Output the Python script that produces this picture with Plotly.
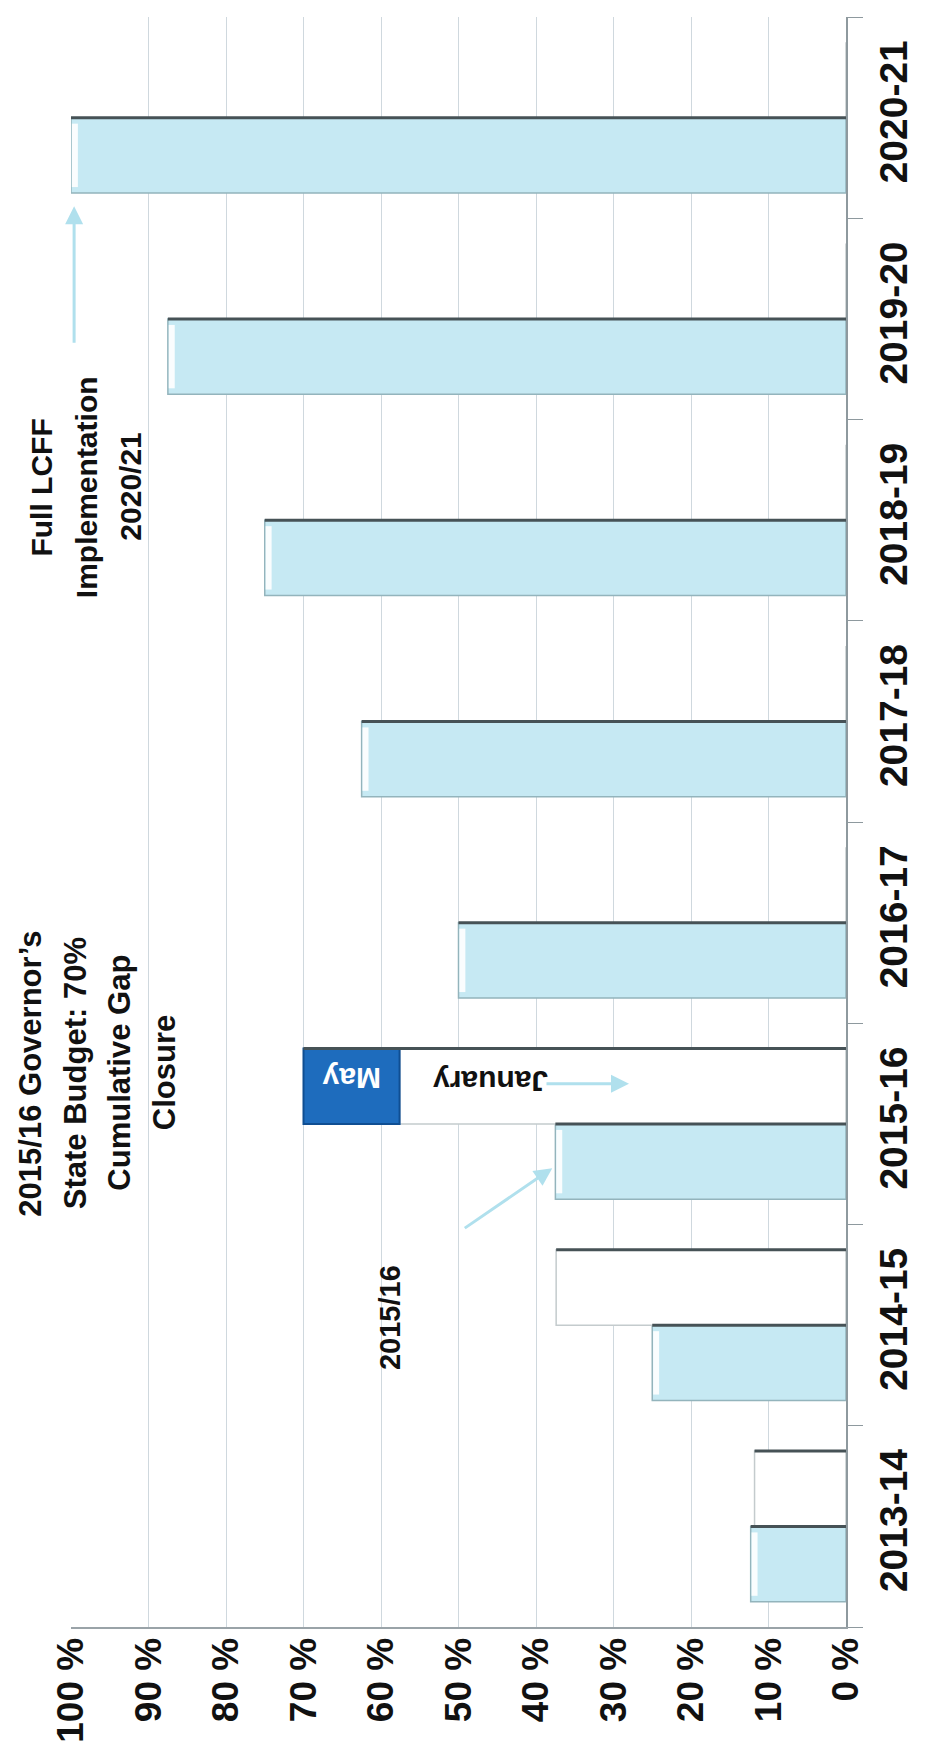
import plotly.graph_objects as go

years = ["2013-14", "2014-15", "2015-16", "2016-17", "2017-18", "2018-19", "2019-20", "2020-21"]
gap_closure = [12.3, 25, 37.5, 50, 62.5, 75, 87.5, 100]
budget_jan = [11.8, 37.4, 57.6, 0, 0, 0, 0, 0]
may_year = ["2015-16"]
may_base = [57.6]
may_add = [12.4]
pct_ticks = [0, 10, 20, 30, 40, 50, 60, 70, 80, 90, 100]

FONT = "Liberation Sans, Arial, Helvetica, sans-serif"
BARW = 0.375  # bar thickness in category units (bargap 0.25, two groups)
EDGE = "#465256"

fig = go.Figure()
fig.add_trace(go.Bar(
    y=years, x=gap_closure, orientation="h", offsetgroup="a",
    marker=dict(color="#c6e9f3", line=dict(color="#93b4bc", width=1.5)),
    showlegend=False, hoverinfo="skip"))
fig.add_trace(go.Bar(
    y=years, x=budget_jan, orientation="h", offsetgroup="b",
    marker=dict(color="#ffffff", line=dict(color="#c4cbcd", width=1.5)),
    showlegend=False, hoverinfo="skip"))
fig.add_trace(go.Bar(
    y=may_year, x=may_add, base=may_base, orientation="h", offsetgroup="b",
    marker=dict(color="#1e6cbd", line=dict(color="#0f4e92", width=2)),
    showlegend=False, hoverinfo="skip"))

# bevel look derived from the data: dark upper edge + light highlight at the bar end
for i, v in enumerate(gap_closure):
    fig.add_shape(type="line", xref="x", yref="y", x0=0, x1=v, y0=i, y1=i,
                  line=dict(color=EDGE, width=3), layer="above")
    fig.add_shape(type="line", xref="x", yref="y", x0=v - 0.5, x1=v - 0.5,
                  y0=i - BARW + 0.03, y1=i - 0.03,
                  line=dict(color="rgba(255,255,255,0.9)", width=6), layer="above")
for i, v in enumerate(budget_jan):
    if v > 0:
        end = may_base[0] + may_add[0] if years[i] in may_year else v
        fig.add_shape(type="line", xref="x", yref="y", x0=0, x1=end,
                      y0=i + BARW, y1=i + BARW,
                      line=dict(color=EDGE, width=3), layer="above")

# white text-box areas hiding the gridlines (as the original text boxes do)
for x0, x1, y0, y1 in [(101.4, 85.9, 1.373, 3.112),
                       (101.4, 88.5, 4.464, 5.860),
                       (64.0, 48.5, 0.573, 1.527)]:
    fig.add_shape(type="rect", xref="x", yref="y", x0=x0, x1=x1, y0=y0, y1=y1,
                  fillcolor="white", line=dict(width=0), layer="below")

TXT = "#111111"


def note(x, y, text, size, angle=-90, color=TXT):
    fig.add_annotation(x=x, y=y, xref="paper", yref="paper", text=f"<b>{text}</b>",
                       textangle=angle, showarrow=False, xanchor="center", yanchor="middle",
                       font=dict(family=FONT, size=size, color=color))


gov_lines = ["2015/16 Governor’s", "State Budget: 70%", "Cumulative Gap", "Closure"]
gov_x = [-0.0523, 0.0052, 0.0626, 0.12]
for t, px in zip(gov_lines, gov_x):
    note(px, 0.344, t, 31)

lcff_lines = ["Full LCFF", "Implementation", "2020/21"]
lcff_x = [-0.0381, 0.0194, 0.0768]
for t, px in zip(lcff_lines, lcff_x):
    note(px, 0.708, t, 30)

note(0.4116, 0.1925, "2015/16", 29)
note(0.542, 0.3385, "January", 30, angle=180)
note(0.3626, 0.341, "May", 30, angle=180, color="#ffffff")

arrow_col = "#b0e0ed"
fig.add_annotation(x=37.9, y=1.78, xref="x", yref="y", text="", showarrow=True,
                   ax=-89, ay=61, arrowhead=2, arrowsize=1.2, arrowwidth=3, arrowcolor=arrow_col)
fig.add_annotation(x=99.6, y=6.56, xref="x", yref="y", text="", showarrow=True,
                   ax=0, ay=138, arrowhead=2, arrowsize=1.2, arrowwidth=3, arrowcolor=arrow_col)
fig.add_annotation(x=28.0, y=2.2, xref="x", yref="y", text="", showarrow=True,
                   ax=-84, ay=0, arrowhead=2, arrowsize=1.2, arrowwidth=3, arrowcolor=arrow_col)

fig.update_layout(
    width=931, height=1743,
    margin=dict(l=71, r=85, t=17, b=116),
    paper_bgcolor="white", plot_bgcolor="white",
    barmode="group", bargap=0.25, bargroupgap=0,
    xaxis=dict(range=[100, 0], tickvals=pct_ticks, ticktext=[f"{v} %" for v in pct_ticks],
               tickangle=-90, automargin=False, ticklabelstandoff=-6,
               tickfont=dict(family=FONT, size=37, color=TXT, weight="bold"),
               showgrid=True, gridcolor="#cfd8de", gridwidth=1, zeroline=False,
               showline=True, linecolor="#9aa3a8", linewidth=2, ticks=""),
    yaxis=dict(categoryorder="array", categoryarray=years, side="right", automargin=False,
               tickangle=-90, tickfont=dict(family=FONT, size=39, color=TXT, weight="bold"),
               showgrid=False, zeroline=False, showline=True, linecolor="#8e999e", linewidth=2,
               ticks="outside", tickson="boundaries", ticklen=15, tickcolor="#8e999e",
               ticklabelstandoff=12),
)

fig.write_html("out.html")
